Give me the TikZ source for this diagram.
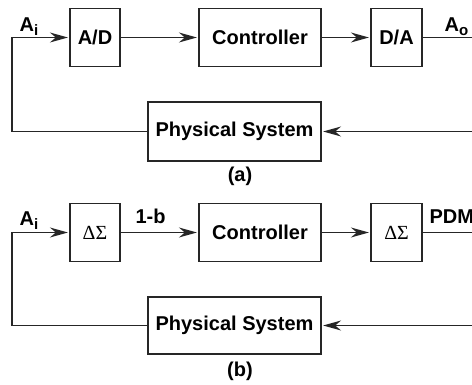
\documentclass[tikz,border=0pt]{standalone}
\usepackage{fontspec}
\setmainfont{Liberation Sans}
\newfontfamily\serifds{Liberation Serif}
\usetikzlibrary{arrows.meta}
\begin{document}
\begin{tikzpicture}[x=1pt,y=-1pt,
  line width=1.2pt,
  box/.style={draw=black!85,line width=1.2pt,inner sep=0pt,font=\fontsize{20}{24}\selectfont\bfseries},
  lbl/.style={inner sep=0pt,font=\fontsize{20}{24}\selectfont\bfseries},
  conn/.style={draw=black!85,line width=1.2pt},
  arr/.style={conn,shorten >=1.5pt,-{Stealth[length=18pt,width=10pt,inset=6pt]}}]
\useasboundingbox (0,0) rectangle (472,385);
% ---------- panel (a)
\node[box,minimum width=50pt,minimum height=58pt] (ad) at (95,37.5) {A/D};
\node[box,minimum width=122pt,minimum height=58pt] (ctla) at (260,37.5) {Controller};
\node[box,minimum width=51pt,minimum height=58pt] (da) at (396.5,37.5) {D/A};
\node[box,minimum width=173pt,minimum height=59pt] (psa) at (234.5,131.5) {Physical System};
\coordinate (la) at (12,37.5);
\coordinate (lb) at (12,131.5);
\coordinate (ra) at (472,37.5);
\coordinate (rb) at (472,131.5);
\draw[arr] (la) -- (ad.west);
\draw[arr] (ad.east) -- (ctla.west);
\draw[arr] (ctla.east) -- (da.west);
\draw[conn] (da.east) -- (ra);
\draw[arr] (rb) -- (psa.east);
\draw[conn] (psa.west) -- (lb) -- (la);
\node[lbl,anchor=base west] (ai) at (19,32) {A\raisebox{-4pt}{\fontsize{15}{18}\selectfont i}};
\node[lbl,anchor=base west] (ao) at (444,32) {A\raisebox{-4pt}{\fontsize{15}{18}\selectfont o}};
\node[lbl] (capa) at (240,176) {(a)};
% ---------- panel (b)
\node[box,minimum width=50pt,minimum height=58pt,font=\fontsize{20}{24}\selectfont\serifds] (dsa) at (95,232.5) {ΔΣ};
\node[box,minimum width=122pt,minimum height=58pt] (ctlb) at (260,232.5) {Controller};
\node[box,minimum width=51pt,minimum height=58pt,font=\fontsize{20}{24}\selectfont\serifds] (dsb) at (396.5,232.5) {ΔΣ};
\node[box,minimum width=173pt,minimum height=57pt] (psb) at (234.5,325.5) {Physical System};
\coordinate (lc) at (12,232.5);
\coordinate (ld) at (12,325.5);
\coordinate (rc) at (472,232.5);
\coordinate (rd) at (472,325.5);
\draw[arr] (lc) -- (dsa.west);
\draw[arr] (dsa.east) -- (ctlb.west);
\draw[arr] (ctlb.east) -- (dsb.west);
\draw[conn] (dsb.east) -- (rc);
\draw[arr] (rd) -- (psb.east);
\draw[conn] (psb.west) -- (ld) -- (lc);
\node[lbl,anchor=base west] (aib) at (19,226) {A\raisebox{-4pt}{\fontsize{15}{18}\selectfont i}};
\node[lbl,anchor=base west] (onemb) at (135,224) {1-b};
\node[lbl,anchor=base west] (pdm) at (429,224) {PDM};
\node[lbl] (capb) at (240,371) {(b)};
\end{tikzpicture}
\end{document}
